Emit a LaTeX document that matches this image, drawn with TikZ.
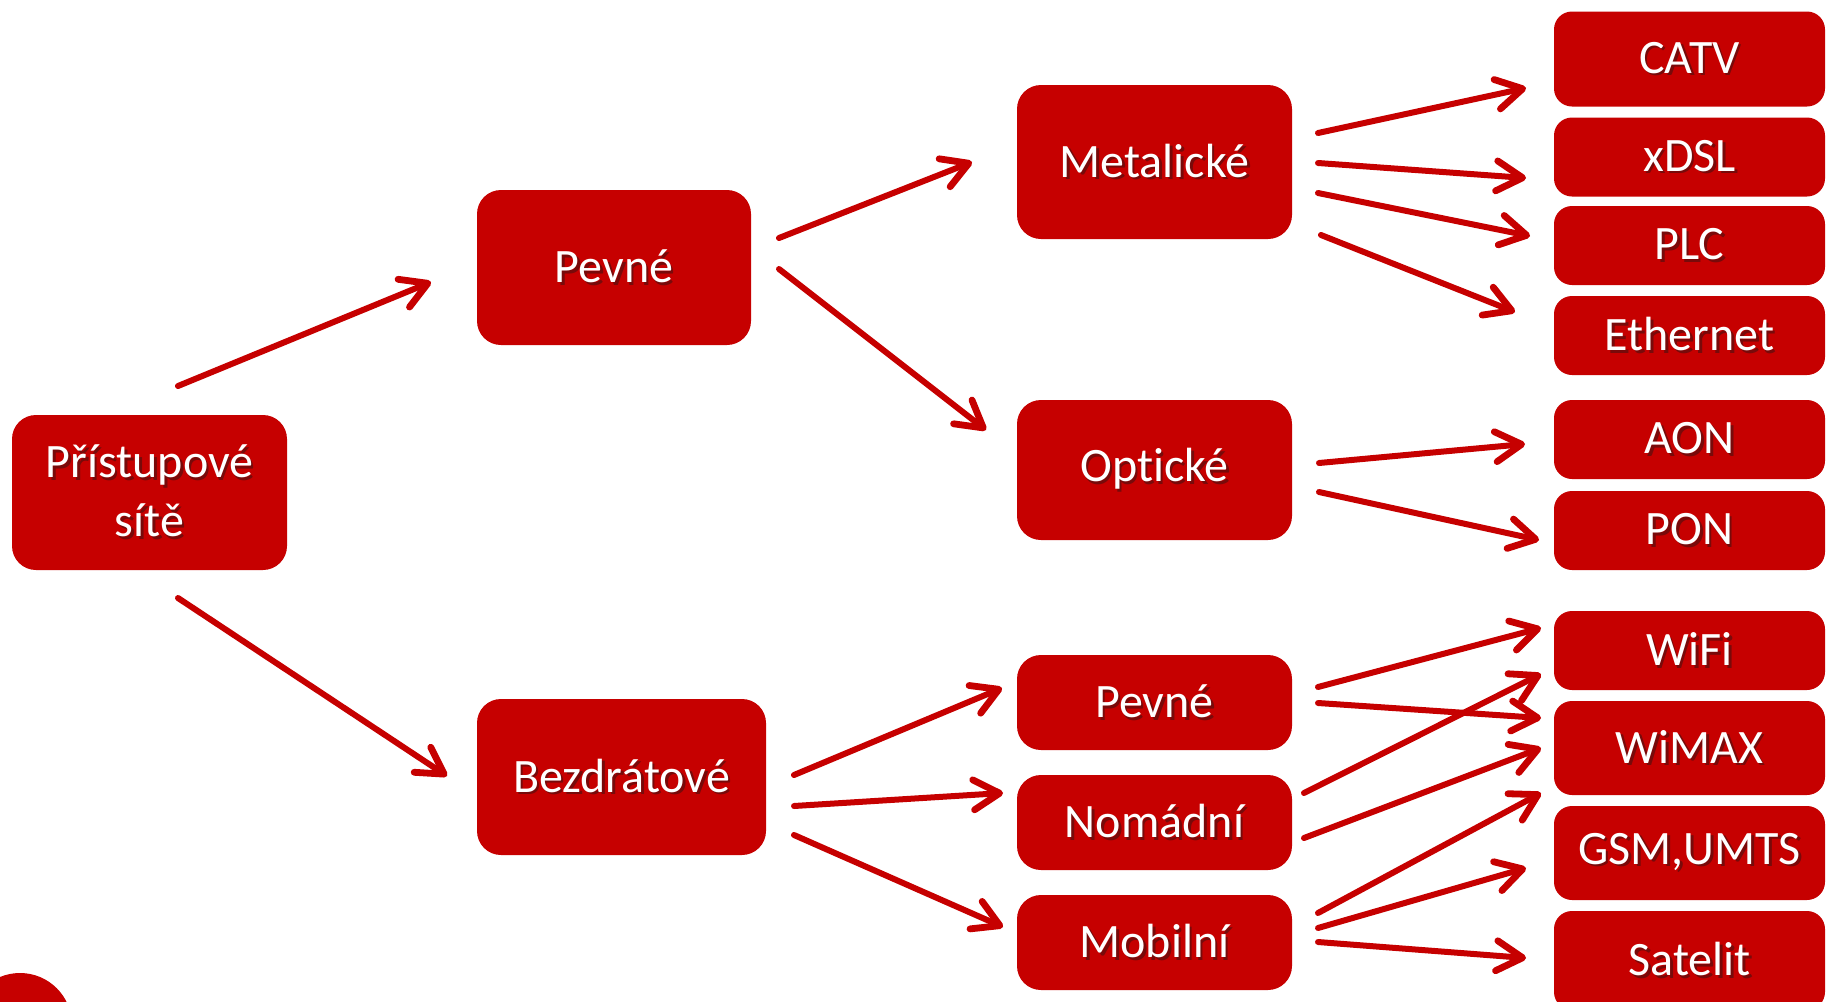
\documentclass[tikz,border=0pt]{standalone}
\usepackage{fontspec}
\setmainfont{Carlito}[Ligatures={NoCommon}]
\usetikzlibrary{arrows.meta}
\definecolor{boxred}{RGB}{198,0,0}
\definecolor{shadowc}{RGB}{120,10,10}
\newcommand\sh[1]{\leavevmode\rlap{\kern1.3pt\raisebox{-1.3pt}{\textcolor{shadowc}{#1}}}#1}
\tikzset{
  box/.style={fill=boxred, draw=none, rounded corners=12pt, inner sep=0pt,
    text=white, font=\fontsize{24}{29.5}\selectfont, align=center},
  smallbox/.style={box, rounded corners=9pt},
  arr/.style={draw=boxred, line width=3pt, line cap=round,
    -{Straight Barb[round, length=13pt, width=15pt, line width=3.4pt]}}
}
\begin{document}
\begin{tikzpicture}[x=0.5pt,y=-0.5pt]
\useasboundingbox (0,0) rectangle (1828,1002);
\begin{scope}
\clip (0,0) rectangle (1828,1002);
\fill[boxred] (20,1025) circle (52);
% nodes
\node[box, minimum width=137.5pt, minimum height=77.5pt] (root) at (149.5,492.5) {\sh{Přístupové}\\\sh{sítě}};
\node[box, minimum width=137pt, minimum height=77.5pt] (pev1) at (614,267.5) {\sh{Pevné}};
\node[box, minimum width=144.5pt, minimum height=78pt] (bez) at (621.5,777) {\sh{Bezdrátové}};
\node[box, minimum width=137.5pt, minimum height=77pt] (met) at (1154.5,162) {\sh{Metalické}};
\node[box, minimum width=137.5pt, minimum height=70pt] (opt) at (1154.5,470) {\sh{Optické}};
\node[box, minimum width=137.5pt, minimum height=47.5pt] (pev2) at (1154.5,702.5) {\sh{Pevné}};
\node[box, minimum width=137.5pt, minimum height=47.5pt] (nom) at (1154.5,822.5) {\sh{Nomádní}};
\node[box, minimum width=137.5pt, minimum height=47.5pt] (mob) at (1154.5,942.5) {\sh{Mobilní}};
\node[smallbox, minimum width=135.5pt, minimum height=47.5pt] (catv) at (1689.5,59) {\sh{CATV}};
\node[smallbox, minimum width=135.5pt, minimum height=39.5pt] (xdsl) at (1689.5,157) {\sh{xDSL}};
\node[smallbox, minimum width=135.5pt, minimum height=39.5pt] (plc) at (1689.5,245.5) {\sh{PLC}};
\node[smallbox, minimum width=135.5pt, minimum height=39.5pt] (eth) at (1689.5,335.5) {\sh{Ethernet}};
\node[smallbox, minimum width=135.5pt, minimum height=39.5pt] (aon) at (1689.5,439.5) {\sh{AON}};
\node[smallbox, minimum width=135.5pt, minimum height=39.5pt] (pon) at (1689.5,530.5) {\sh{PON}};
\node[smallbox, minimum width=135.5pt, minimum height=39.5pt] (wifi) at (1689.5,650.5) {\sh{WiFi}};
\node[smallbox, minimum width=135.5pt, minimum height=47pt] (wimax) at (1689.5,748) {\sh{WiMAX}};
\node[smallbox, minimum width=135.5pt, minimum height=47pt] (gsm) at (1689.5,853) {\sh{GSM,UMTS}};
\node[smallbox, minimum width=135.5pt, minimum height=49.5pt] (sat) at (1689.5,960.5) {\sh{Satelit}};
\end{scope}
% connector end points
\coordinate (a1s) at (178,386);  \coordinate (a1e) at (431,282);
\coordinate (a2s) at (178,598);  \coordinate (a2e) at (447,776);
\coordinate (a3s) at (779,238);  \coordinate (a3e) at (972,162);
\coordinate (a4s) at (779,269);  \coordinate (a4e) at (986,430);
\coordinate (a5s) at (1318,133); \coordinate (a5e) at (1526,88);
\coordinate (a6s) at (1318,163); \coordinate (a6e) at (1526,178);
\coordinate (a7s) at (1318,193); \coordinate (a7e) at (1530,236);
\coordinate (a8s) at (1321,235); \coordinate (a8e) at (1515,312);
\coordinate (a9s) at (1319,463); \coordinate (a9e) at (1525,444);
\coordinate (a10s) at (1319,492); \coordinate (a10e) at (1539,540);
\coordinate (a11s) at (794,775); \coordinate (a11e) at (1002,688);
\coordinate (a12s) at (794,806); \coordinate (a12e) at (1003,793);
\coordinate (a13s) at (794,835); \coordinate (a13e) at (1003,927);
\coordinate (a14s) at (1318,687); \coordinate (a14e) at (1541,628);
\coordinate (a15s) at (1318,703); \coordinate (a15e) at (1541,718);
\coordinate (a16s) at (1304,793); \coordinate (a16e) at (1541,674);
\coordinate (a17s) at (1304,838); \coordinate (a17e) at (1541,748);
\coordinate (a18s) at (1318,913); \coordinate (a18e) at (1541,793);
\coordinate (a19s) at (1318,928); \coordinate (a19e) at (1526,868);
\coordinate (a20s) at (1318,942); \coordinate (a20e) at (1526,958);
\foreach \i in {1,...,20} { \draw[arr] (a\i s) -- (a\i e); }
\end{tikzpicture}
\end{document}
